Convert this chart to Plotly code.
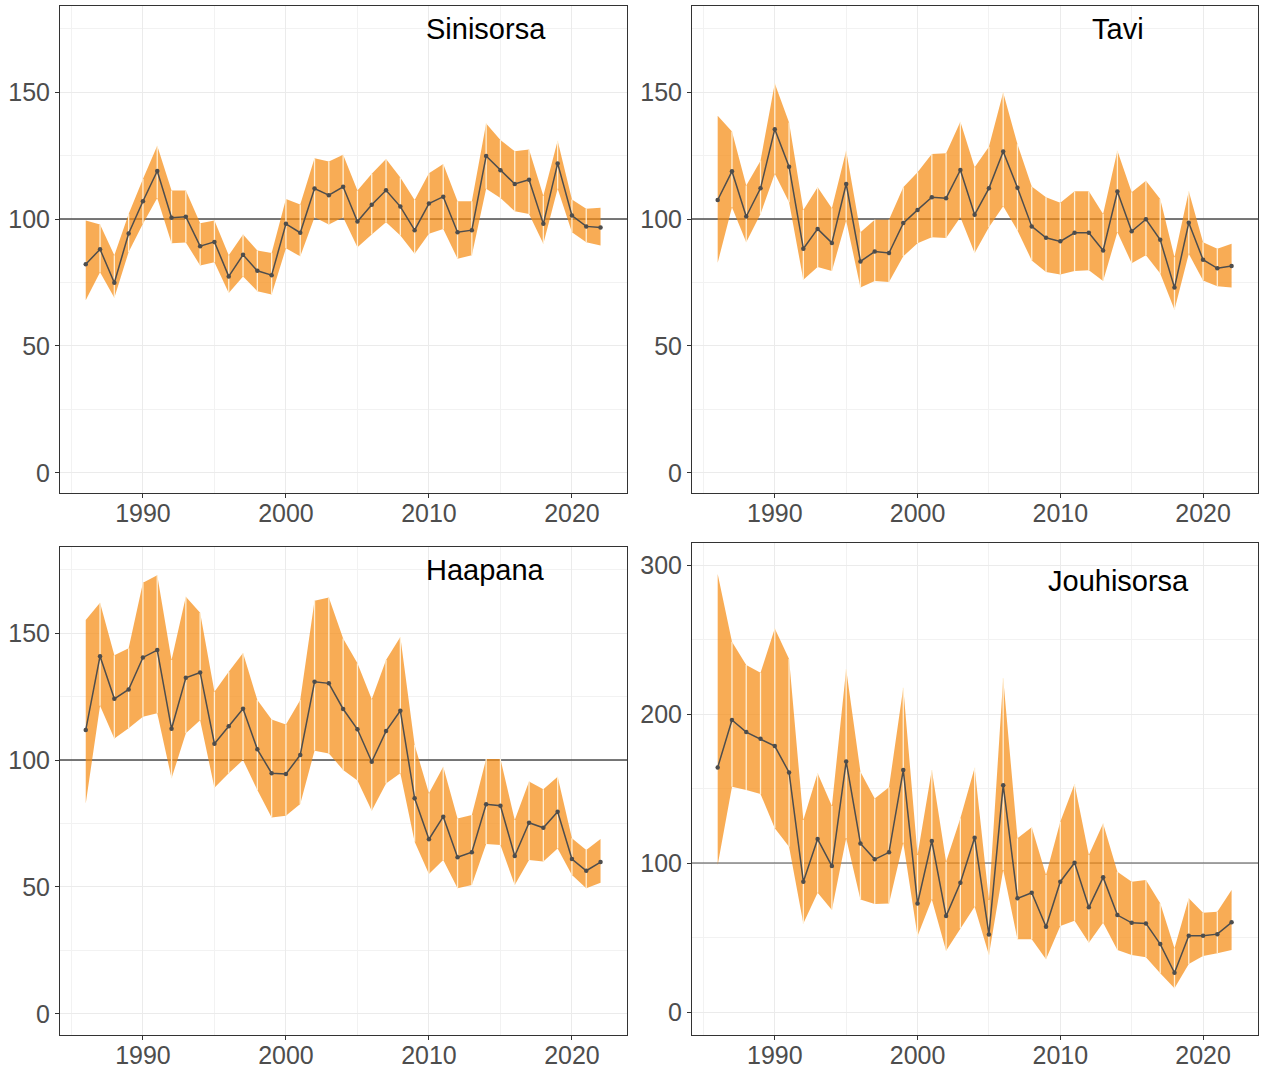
import plotly.graph_objects as go

years = list(range(1986, 2023))

# Sinisorsa
sin_idx = [82.2, 88.1, 74.9, 94.3, 107.0, 118.9, 100.5, 100.9, 89.3, 91.0, 77.4, 85.9, 79.6, 77.9, 98.1, 94.6, 112.0, 109.4, 112.7,
           99.0, 105.6, 111.3, 104.9, 95.6, 106.1, 108.8, 94.8, 95.6, 124.8, 119.2, 113.8, 115.5, 98.1, 121.9, 101.4, 97.1, 96.7]
sin_hi = [99.4, 97.8, 85.7, 102.0, 115.8, 128.9, 111.2, 111.2, 98.3, 99.4, 85.7, 93.9, 87.6, 86.6, 107.9, 105.7, 123.9, 122.7, 125.3,
          111.2, 117.8, 123.6, 116.4, 107.5, 118.0, 121.7, 107.0, 107.0, 137.6, 131.1, 126.7, 127.4, 109.2, 130.8, 107.7, 104.0, 104.4]
sin_lo = [68.0, 79.0, 69.0, 87.0, 98.1, 108.3, 90.5, 90.8, 81.7, 83.0, 70.9, 77.4, 71.6, 70.3, 88.5, 85.3, 100.7, 97.8, 100.7,
          88.9, 93.9, 98.7, 93.5, 86.3, 94.2, 96.1, 84.4, 85.7, 111.9, 108.3, 103.1, 102.0, 90.3, 111.9, 94.8, 90.9, 89.6]

# Tavi
tav_idx = [107.5, 118.8, 101.0, 112.1, 135.4, 120.6, 88.3, 96.1, 90.6, 113.8, 83.3, 87.2, 86.6, 98.4, 103.6, 108.6, 108.2, 119.3, 101.7,
           112.1, 126.6, 112.3, 97.1, 92.6, 91.2, 94.6, 94.6, 87.6, 110.8, 95.2, 99.9, 91.8, 73.0, 98.5, 84.0, 80.6, 81.5]
tav_hi = [140.7, 134.5, 113.2, 123.0, 153.4, 138.0, 103.6, 112.5, 104.2, 126.9, 94.8, 99.7, 99.7, 112.5, 118.4, 125.6, 125.9, 138.3, 120.4,
          128.5, 149.8, 129.5, 112.8, 108.6, 106.4, 110.9, 110.9, 102.0, 126.9, 110.5, 115.1, 107.9, 85.0, 110.9, 90.9, 88.3, 90.3]
tav_lo = [82.8, 104.6, 90.9, 102.0, 117.8, 106.6, 76.1, 81.1, 79.5, 99.4, 73.0, 75.6, 75.2, 85.3, 90.5, 92.8, 92.5, 100.7, 86.6,
          96.8, 105.0, 95.5, 83.7, 79.1, 78.2, 79.5, 79.8, 75.6, 94.8, 82.6, 85.7, 78.5, 64.3, 86.3, 75.8, 73.5, 73.0]

# Haapana
haa_idx = [111.8, 140.9, 124.1, 127.8, 140.4, 143.3, 112.3, 132.4, 134.5, 106.4, 113.3, 120.2, 104.2, 94.8, 94.5, 102.0, 130.8, 130.2, 120.1,
           112.1, 99.3, 111.4, 119.4, 84.9, 68.8, 77.7, 61.7, 63.7, 82.6, 82.0, 62.2, 75.3, 73.3, 79.6, 61.0, 56.4, 59.8]
haa_hi = [155.1, 161.9, 141.3, 144.0, 169.8, 172.8, 139.4, 164.3, 158.0, 126.9, 134.8, 142.2, 123.6, 116.0, 114.0, 123.6, 162.7, 164.0, 147.9,
          138.1, 123.9, 139.4, 148.5, 105.9, 86.9, 97.4, 77.0, 78.3, 100.4, 100.4, 76.4, 91.5, 88.5, 93.4, 69.2, 64.6, 68.9]
haa_lo = [82.9, 121.4, 108.5, 112.5, 117.0, 118.4, 92.8, 110.5, 115.7, 89.1, 94.8, 100.0, 88.2, 77.4, 78.1, 82.7, 103.7, 102.6, 96.1,
          91.9, 80.0, 90.8, 94.8, 67.8, 55.1, 60.6, 49.5, 50.8, 66.9, 66.5, 50.8, 60.6, 60.0, 65.2, 54.7, 49.5, 51.7]

# Jouhisorsa
jou_idx = [164.2, 196.0, 187.9, 183.4, 178.5, 160.8, 87.5, 116.1, 98.0, 168.2, 113.2, 102.5, 107.2, 162.4, 72.9, 114.8, 64.4, 86.8, 117.0,
           52.1, 152.3, 76.3, 80.1, 57.3, 87.5, 100.2, 70.3, 90.4, 65.1, 59.9, 59.5, 45.6, 26.4, 51.2, 51.2, 52.3, 60.2]
jou_hi = [294.0, 248.5, 232.9, 227.7, 257.5, 236.9, 128.9, 160.2, 138.3, 230.0, 161.3, 143.4, 150.8, 217.7, 105.4, 162.4, 100.9, 130.0, 164.0,
          75.2, 224.0, 116.6, 124.0, 91.9, 127.7, 153.0, 105.4, 126.6, 94.2, 87.5, 88.6, 73.0, 42.8, 76.3, 66.7, 67.3, 81.9]
jou_lo = [98.7, 151.2, 149.0, 146.3, 123.3, 110.9, 59.5, 80.1, 68.5, 116.6, 75.6, 72.5, 72.9, 113.6, 51.0, 75.6, 41.2, 56.2, 70.7,
          38.3, 95.3, 48.8, 48.8, 35.4, 57.7, 61.3, 46.5, 59.9, 41.6, 38.3, 36.7, 26.0, 15.9, 32.2, 37.6, 39.4, 41.6]

names = ["Sinisorsa", "Tavi", "Haapana", "Jouhisorsa"]
REF = 100
XRANGE = [1984.2, 2023.85]

panels = [
    (names[0], sin_idx, sin_lo, sin_hi),
    (names[1], tav_idx, tav_lo, tav_hi),
    (names[2], haa_idx, haa_lo, haa_hi),
    (names[3], jou_idx, jou_lo, jou_hi),
]

W, H = 1261, 1068
# panel pixel boxes (left, top, right, bottom)
boxes = [(60, 6, 627, 493), (692, 6, 1258, 493), (60, 547, 627, 1035), (692, 543, 1258, 1035)]
yranges = [[-7.9, 183.9], [-7.9, 183.9], [-8.3, 183.9], [-15.4, 314.8]]
ydt = [50, 50, 50, 100]
title_pos = [(0.751, 0.953), (0.753, 0.953), (0.751, 0.953), (0.753, 0.923)]

RIB = "rgba(245,140,20,0.72)"
fig = go.Figure()
layout = dict(width=W, height=H, margin=dict(l=0, r=0, t=0, b=0),
              paper_bgcolor="white", plot_bgcolor="white", showlegend=False,
              font=dict(family="Liberation Sans, Arial, sans-serif"))
annotations = []
for i, (name, idx, lo, hi) in enumerate(panels):
    n = i + 1
    xa = "x" if n == 1 else f"x{n}"
    ya = "y" if n == 1 else f"y{n}"
    l, t, r, b = boxes[i]
    xdom = [l / W, r / W]
    ydom = [1 - b / H, 1 - t / H]
    axis_common = dict(showline=True, linecolor="#333333", linewidth=1, mirror=True,
                       ticks="outside", ticklen=4, tickcolor="#333333",
                       tickfont=dict(size=25, color="#4d4d4d"),
                       showgrid=True, gridcolor="#ebebeb", gridwidth=1.2, zeroline=False)
    layout["xaxis" if n == 1 else f"xaxis{n}"] = dict(
        domain=xdom, range=XRANGE, tickmode="array", tickvals=[1990, 2000, 2010, 2020],
        anchor=ya, ticklabelstandoff=-6,
        minor=dict(tickmode="array", tickvals=[1985, 1995, 2005, 2015], showgrid=True,
                   gridcolor="#f2f2f2", gridwidth=1, ticks=""), **axis_common)
    d = ydt[i]
    layout["yaxis" if n == 1 else f"yaxis{n}"] = dict(
        domain=ydom, range=yranges[i], dtick=d, tick0=0, anchor=xa,
        minor=dict(dtick=d / 2, tick0=d / 2, showgrid=True, gridcolor="#f2f2f2", gridwidth=1, ticks=""),
        **axis_common)
    # reference line at 100 (under the ribbon)
    fig.add_trace(go.Scatter(x=XRANGE, y=[REF, REF], mode="lines",
                             line=dict(color="#4d4d4d", width=1.5 if n < 4 else 1.1),
                             xaxis=xa, yaxis=ya, hoverinfo="skip"))
    # ribbon
    fig.add_trace(go.Scatter(x=years, y=lo, mode="lines", line=dict(width=0), xaxis=xa, yaxis=ya,
                             hoverinfo="skip"))
    fig.add_trace(go.Scatter(x=years, y=hi, mode="lines", line=dict(width=0), fill="tonexty",
                             fillcolor=RIB, xaxis=xa, yaxis=ya, hoverinfo="skip"))
    # thin light seams at each year
    sx, sy = [], []
    for yr, a, c in zip(years[1:-1], lo[1:-1], hi[1:-1]):
        sx += [yr, yr, None]
        sy += [a, c, None]
    fig.add_trace(go.Scatter(x=sx, y=sy, mode="lines", line=dict(color="rgba(255,242,220,0.95)", width=1.3),
                             xaxis=xa, yaxis=ya, hoverinfo="skip"))
    # index line
    fig.add_trace(go.Scatter(x=years, y=idx, mode="lines+markers",
                             line=dict(color="#4d4d4d", width=1.5),
                             marker=dict(color="#4d4d4d", size=4.5), xaxis=xa, yaxis=ya))
    tx, ty = title_pos[i]
    annotations.append(dict(text=name, xref=f"{xa} domain", yref=f"{ya} domain", x=tx, y=ty,
                            xanchor="center", yanchor="middle", showarrow=False,
                            font=dict(size=29, color="black", family="Liberation Sans, Arial, sans-serif")))

layout["annotations"] = annotations
fig.update_layout(**layout)
fig.write_html("out.html", config={"displayModeBar": False},
               post_script="document.body.style.margin='0px';")
